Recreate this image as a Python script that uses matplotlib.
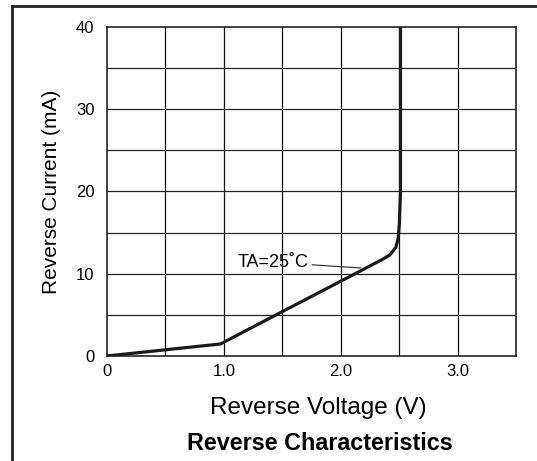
import matplotlib
matplotlib.use("Agg")
import matplotlib.pyplot as plt
from matplotlib.lines import Line2D

plt.rcParams['font.family'] = ['Liberation Sans', 'DejaVu Sans']

# reverse characteristic, TA = 25 C
voltage = [0.0, 0.97, 1.5, 2.0, 2.35, 2.42, 2.47, 2.49, 2.50, 2.51, 2.51]
current = [0.0, 1.46, 5.4, 9.1, 11.7, 12.3, 13.2, 14.3, 16.0, 20.0, 40.0]

xticks = [0, 1.0, 2.0, 3.0]
xticklabels = ['0', '1.0', '2.0', '3.0']
yticks = [0, 10, 20, 30, 40]

fig = plt.figure(figsize=(5.37, 4.61), dpi=100)
ax = fig.add_axes([0.1993, 0.2278, 0.7621, 0.7136])

# grid every 0.5 V and 5 mA
for gx in [0.5 * i for i in range(1, 7)]:
    ax.axvline(gx, color='#111111', lw=0.9, zorder=1)
for gy in [5 * i for i in range(1, 8)]:
    ax.axhline(gy, color='#222222', lw=0.9, zorder=1)

ax.plot(voltage, current, color='#1a1a1a', lw=2.3, solid_joinstyle='round', zorder=3)

ax.annotate('TA=25˚C', xy=(2.17, 10.7), xytext=(1.72, 11.4),
            fontsize=13, ha='right', va='center',
            arrowprops=dict(arrowstyle='-', color='#222222', lw=0.8,
                            shrinkA=1, shrinkB=0))

ax.set_xlim(0, 3.5)
ax.set_ylim(0, 40)
ax.set_xticks(xticks)
ax.set_xticklabels(xticklabels)
ax.set_yticks(yticks)
ax.tick_params(length=0, labelsize=12, pad=6)
ax.tick_params(axis='y', pad=9)
for s in ax.spines.values():
    s.set_linewidth(1.2)
    s.set_color('#222222')

ax.set_xlabel('Reverse Voltage (V)', fontsize=17.5, labelpad=13)
ax.xaxis.label.set_x(0.517)
ax.set_ylabel('Reverse Current (mA)', fontsize=15, labelpad=11)
fig.text(0.595, 0.012, 'Reverse Characteristics', fontsize=16.8, fontweight='bold',
         ha='center', va='bottom')

# outer frame (left and top only)
fig.add_artist(Line2D([12 / 537, 12 / 537], [0, 1 - 6 / 461],
                      transform=fig.transFigure, color='#222222', lw=2))
fig.add_artist(Line2D([12 / 537, 1], [1 - 6 / 461, 1 - 6 / 461],
                      transform=fig.transFigure, color='#222222', lw=2))

fig.savefig('out.png', dpi=100)
